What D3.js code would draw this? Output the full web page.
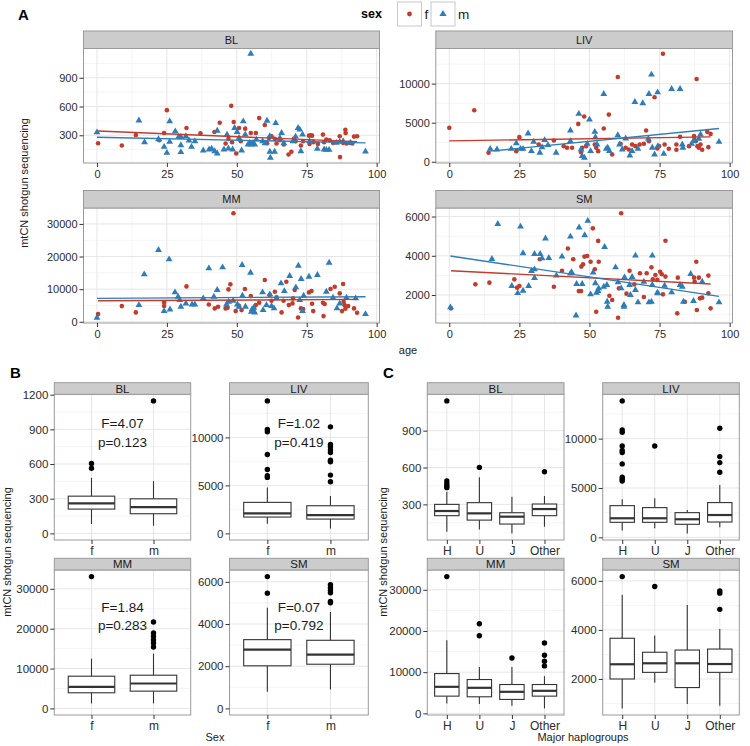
<!DOCTYPE html>
<html><head><meta charset="utf-8">
<script src="https://cdn.jsdelivr.net/npm/d3@7"></script>
<style>body{margin:0;background:#fff} svg text{font-family:"Liberation Sans",Arial,Helvetica,sans-serif}</style>
</head><body><svg id="c" width="750" height="746"></svg>
<script>
// ---------------- DATA ----------------
const facets = ["BL","LIV","MM","SM"];
const sexLevels = ["f","m"];
const hapLevels = ["H","U","J","Other"];
const ageTicks = [0,25,50,75,100];
const scatterYTicks = [[300,600,900],[0,5000,10000],[0,10000,20000,30000],[2000,4000,6000]];
const sexYTicks = [[0,300,600,900,1200],[0,5000,10000],[0,10000,20000,30000],[0,2000,4000,6000]];
const hapYTicks = [[300,600,900],[0,5000,10000],[0,10000,20000,30000],[2000,4000,6000]];

// Panel A scatter: [age, mtCN]
const blF = [[0.4,217],[8.9,193],[13.9,303],[22.3,248],[24,324],[25,562],[32,376],[37,321],[42,334],[43.9,431],[46,214],[47,262],[48,607],[48.3,228],[48.9,438],[49.8,110],[50.8,376],[51.4,238],[53,369],[55,324],[56.8,324],[58,479],[60,407],[60.8,217],[61.5,272],[62.4,290],[63.6,262],[64.2,214],[65.4,248],[66.8,203],[68.5,100],[69.5,128],[70.4,262],[71,238],[72.9,193],[73.7,238],[75.8,296],[76.4,300],[76.9,296],[76,210],[77.4,228],[79,210],[80.8,307],[81.2,228],[82,255],[83.2,248],[84.4,221],[86.8,290],[86.9,72],[88,221],[88.8,358],[88.9,324],[89.2,214],[90.4,221],[91.3,214],[91.9,286],[93,290]];
const blM = [[0,331],[15,455],[17,228],[22,259],[24,179],[25,117],[26,445],[26,231],[28,341],[29.2,283],[30,283],[30,124],[30,196],[31.8,290],[32.9,245],[33.8,179],[35,238],[38,141],[40.1,152],[41,159],[42.1,134],[43,110],[43,348],[45.4,152],[46.5,307],[47,162],[48.5,152],[49.2,376],[50.1,334],[50.8,272],[51.7,141],[52.3,445],[53,307],[54,203],[54.6,221],[55,1151],[55.2,203],[55.8,221],[56.4,203],[57,255],[59.2,238],[60.1,217],[60.8,452],[61.8,290],[61.8,128],[62,65],[63.5,128],[63.9,427],[65.4,272],[66,324],[66.8,217],[70.1,238],[71,286],[71.9,376],[72.5,359],[72.9,134],[73.5,307],[76,238],[78.8,159],[81.2,152],[82,148],[83,148],[85.6,221],[86.8,231],[88,238],[90.7,221],[96,131]];
const livF = [[0,4340],[8.9,6595],[14,1150],[23.9,1360],[25,3150],[31.9,2210],[37.3,2720],[40.8,2000],[42,1790],[43.8,1790],[46,4850],[47,1230],[47.4,1790],[48.1,5790],[48.8,2000],[51.9,2210],[52.4,1790],[53.1,1360],[55.1,4255],[56.9,6040],[58.1,940],[60.1,10850],[61.1,2300],[62.9,1790],[64,1570],[65.2,2210],[66.4,2000],[67.9,2210],[69.4,2300],[70.2,4000],[71.2,2640],[73.2,8250],[74.2,1700],[74.8,2000],[76.2,13830],[76.8,2210],[78.3,1660],[81,2210],[81,1530],[82.3,3190],[85.5,2000],[87.3,3280],[87.4,2850],[87.9,2640],[88.2,10600],[88.5,2000],[89,1790],[89.6,2210],[90.2,1530],[92,3830],[92.4,1870],[93.2,3570]];
const livM = [[14.6,1660],[17,1570],[22.1,1660],[23.9,2380],[25.4,1660],[26.3,1660],[28.1,3620],[29.3,1360],[30.1,2550],[32.3,1150],[33.1,1870],[34,2770],[35.2,2130],[38.1,1150],[43.2,4000],[43.2,2640],[46.2,6130],[47,1570],[47.4,720],[48.2,510],[49.2,2300],[50,5400],[50.4,1360],[51.9,3830],[52.1,3150],[52.7,2210],[55.1,8680],[56,1660],[56.5,1790],[57.1,1360],[60.1,3400],[60.7,2210],[61.7,1570],[62.9,2980],[64.4,810],[65.2,1360],[66.2,7660],[67.3,1660],[69,7490],[71,2940],[71.2,8680],[72.1,11150],[72.4,1790],[73.2,940],[74.3,8890],[74.4,2000],[76.5,1020],[79.3,9320],[82.3,9320],[83.1,2210],[83.3,1790],[86.4,2300],[87.3,2640],[89,2940],[89.6,3490],[96.2,2550]];
const mmF = [[0.4,2355],[8.9,4810],[13.9,2870],[24,5940],[24,4810],[32,10850],[40,5320],[42.1,4100],[43.3,4610],[46,4100],[46.7,4300],[47,9930],[47.7,11470],[48.8,33280],[49.6,3280],[50.8,4810],[51.7,3580],[52.9,10040],[55,7880],[56.8,5120],[58,5840],[60,12800],[61.8,8190],[62.4,6450],[63.6,9220],[64.2,7480],[66,2870],[66.7,6450],[67.7,12290],[68.6,5120],[69.9,5630],[70.1,7170],[70.7,9730],[71.9,1330],[72.9,4100],[73.7,3890],[75.8,9010],[76.7,9420],[76.9,5530],[77.3,3280],[80.8,5840],[81,1740],[81.4,5430],[83.5,10040],[85,10750],[86.8,8700],[87.6,3280],[88,11570],[88.2,6140],[88.5,5120],[88.8,3990],[89.8,4810],[91.9,4100],[93,2760]];
const mmM = [[0,1230],[15,5120],[16.9,14540],[22,22020],[24,3280],[25.8,19150],[26.1,3790],[27.9,9010],[29,7680],[29.6,6660],[30,4610],[31.8,5630],[34,5320],[35,5320],[38,7170],[40,16380],[41.8,7680],[43,9730],[44.9,16690],[46.3,5320],[47.1,6140],[48.7,6450],[50.2,5320],[50.8,4610],[51.9,17410],[52,7990],[53.1,4610],[54.9,15050],[55.2,3070],[55.5,3890],[56.1,4300],[56.4,2870],[59.2,9010],[59.4,3580],[60.6,5120],[61.8,8400],[62.4,4810],[63.3,4100],[64.2,7170],[65.8,11780],[67,9420],[68.9,14030],[71.1,10550],[72,17200],[72.5,6660],[73,13110],[73.5,3280],[73.9,7990],[75.8,13820],[78.8,14340],[82,9220],[83,18120],[84.4,7370],[85.8,4100],[86.8,5630],[89.2,7370],[92.5,7170],[96,2360]];
const smF = [[0.6,1320],[9.3,2545],[14.3,2630],[23.2,2800],[24.2,2375],[25,2460],[32.3,3820],[37.3,2425],[40.2,3240],[42.3,4370],[44.2,3820],[46.2,2200],[47,2200],[47.1,3450],[47.7,3570],[48.2,3960],[49.2,3990],[50.4,3700],[51.2,5400],[51.9,3310],[52.4,1150],[53.1,4760],[53.3,3700],[57.1,1965],[58.1,1745],[60.2,840],[60.5,2340],[61.3,6170],[63.2,2070],[64.3,3240],[66,2545],[68,3110],[69.4,1900],[70.4,3110],[72.1,3410],[72.6,2800],[73.5,3020],[74.2,2770],[75.2,3190],[75.8,3060],[76.2,2035],[77.1,4770],[77.1,2940],[81.3,1065],[81.5,2885],[84,1660],[87.3,2885],[87.5,2680],[88.1,3700],[88.3,1235],[89,2885],[89.4,1830],[90.2,1865],[92.4,2990],[92.4,2085],[93.2,1320]];
const smM = [[0.4,1370],[15.2,3840],[17.3,5625],[22.3,2460],[24.4,2100],[25.4,5490],[26.3,2220],[26.3,4130],[28.3,2460],[29.3,3225],[30.4,3310],[30.4,2870],[30.4,4090],[32.4,4090],[33.1,3870],[34.3,4880],[35.5,3890],[38.2,2990],[40.2,3960],[43.2,4980],[43.2,3090],[43.6,3170],[45.2,960],[45.4,2560],[46.3,5440],[47.4,2560],[48.3,5050],[49.4,5780],[50.4,2035],[51.3,3140],[52.1,2600],[52.5,2120],[53.1,2200],[53.3,2340],[55.1,2425],[55.4,4450],[56.2,2510],[56.3,1660],[56.5,1400],[59.3,3410],[60.2,2650],[61.3,2340],[62.3,1490],[62.3,1400],[62.5,2900],[64.3,2510],[64.6,2000],[65.2,2920],[66.4,4010],[66.4,2255],[67.3,1625],[69.4,2680],[71.2,1625],[72.1,1660],[72.4,4010],[72.4,2510],[74.2,2120],[74.4,2085],[76.8,2475],[79.3,2135],[82.3,2510],[83.1,2425],[83.5,1660],[86.1,3070],[87.1,1695],[90.2,2680],[96.2,1625]];

// Linear fits, value at the youngest and the oldest age of each series [f, m]
const fitBL = [[345,234],[279,221]];
const fitLIV = [[2680,3190],[1360,4255]];
const fitMM = [[6450,6860],[7170,7680]];
const fitSM = [[3240,2560],[3990,1930]];

// Panel B boxplots by sex: [lower whisker, Q1, median, Q3, upper whisker]
const boxSexBL = [[81,210,259,322,481],[66,170,227,299,452]];
const boxSexLIV = [[1000,1700,2080,3230,4790],[520,1490,1910,2880,3890]];
const boxSexMM = [[1250,3920,5410,8080,12500],[1250,4330,6250,8330,13750]];
const boxSexSM = [[790,2020,2790,3260,4770],[900,2095,2550,3230,4570]];
const outSexBL = [[563,605],[1146]];
const outSexLIV = [[5830,6000,6660,8220,10580,10830,13800],[5380,6070,7460,7630,8430,8680,9020,9260,11100]];
const outSexMM = [[33070],[15410,16410,17240,18080,18910,21660]];
const outSexSM = [[5465,6250],[5010,5070,5480,5590,5720,5860]];
const statF = ["F=4.07","F=1.02","F=1.84","F=0.07"];
const statP = ["p=0.123","p=0.419","p=0.283","p=0.792"];

// Panel C boxplots by haplogroup (H, U, J, Other)
const boxHapBL = [[77,208,246,300,403],[95,172,227,314,520],[64,140,200,232,362],[118,208,262,303,368]];
const boxHapLIV = [[680,1520,1930,3210,3850],[910,1520,1930,3010,3950],[400,1320,1830,2500,2770],[1010,1550,2260,3520,5310]];
const boxHapMM = [[2420,4190,6450,9670,17730],[2260,4030,6210,8220,11280],[1850,3390,5240,7010,11280],[1210,4190,5480,7010,9030]];
const boxHapSM = [[800,2000,2600,3660,5430],[1850,2270,2640,3090,3770],[980,1650,2640,3180,5020],[910,2270,2610,3220,4040]];
const outHapBL = [[436,449,466,490,1142],[601],[],[566]];
const outHapLIV = [[5710,5880,6080,7440,8590,8790,9260,10650,10880,13820],[9260],[],[6590,7570,8180,11050]];
const outHapMM = [[33210],[18860,21760],[13460],[11530,12650,14100,17090]];
const outHapSM = [[6175],[5770],[],[4840,5500,5590]];

// ---------------- DRAWING ----------------
const scatterF = [blF, livF, mmF, smF];
const scatterM = [blM, livM, mmM, smM];
const fits = [fitBL, fitLIV, fitMM, fitSM];
const boxSex = [boxSexBL, boxSexLIV, boxSexMM, boxSexSM];
const outSex = [outSexBL, outSexLIV, outSexMM, outSexSM];
const boxHap = [boxHapBL, boxHapLIV, boxHapMM, boxHapSM];
const outHap = [outHapBL, outHapLIV, outHapMM, outHapSM];

const colF = "#C23B2C", colM = "#2D7DB8";
const svg = d3.select("#c");
const FONT = '"Liberation Sans", Arial, Helvetica, sans-serif';
const fmt = d3.format("d");

function expand(lo, hi){ const r = hi - lo; return [lo - 0.05*r, hi + 0.05*r]; }
function minorOf(ticks, dom){
  if (ticks.length < 2) return [];
  const step = ticks[1] - ticks[0], out = [];
  for (let i = -1; i < ticks.length; i++){
    const v = ticks[0] + step*(i + 0.5);
    if (v > dom[0] && v < dom[1]) out.push(v);
  }
  return out;
}

function frame(L, x, y, xMajor, xMinor, yMajor, yMinor, label, stripFs){
  const g = svg.append("g");
  g.append("rect").attr("x", L.x0).attr("y", L.py0).attr("width", L.x1-L.x0).attr("height", L.py1-L.py0).attr("fill", "#fff");
  const grid = g.append("g");
  yMinor.forEach(v => grid.append("line").attr("x1", L.x0).attr("x2", L.x1).attr("y1", y(v)).attr("y2", y(v)).attr("stroke", "#f5f5f5").attr("stroke-width", 1));
  xMinor.forEach(v => grid.append("line").attr("y1", L.py0).attr("y2", L.py1).attr("x1", x(v)).attr("x2", x(v)).attr("stroke", "#f5f5f5").attr("stroke-width", 1));
  yMajor.filter(v => y(v) >= L.py0 && y(v) <= L.py1).forEach(v => grid.append("line").attr("x1", L.x0).attr("x2", L.x1).attr("y1", y(v)).attr("y2", y(v)).attr("stroke", "#e6e6e6").attr("stroke-width", 1));
  xMajor.forEach(v => grid.append("line").attr("y1", L.py0).attr("y2", L.py1).attr("x1", x(v)).attr("x2", x(v)).attr("stroke", "#e6e6e6").attr("stroke-width", 1));
  const content = g.append("g");
  const top = g.append("g");
  top.append("rect").attr("x", L.x0).attr("y", L.py0).attr("width", L.x1-L.x0).attr("height", L.py1-L.py0).attr("fill", "none").attr("stroke", "#9a9a9a").attr("stroke-width", 1);
  top.append("rect").attr("x", L.x0).attr("y", L.sy0).attr("width", L.x1-L.x0).attr("height", L.py0-L.sy0).attr("fill", "#cccccc").attr("stroke", "#9a9a9a").attr("stroke-width", 1);
  top.append("text").attr("x", (L.x0+L.x1)/2).attr("y", (L.sy0+L.py0)/2).attr("dy", "0.36em").attr("text-anchor", "middle").attr("font-size", stripFs).attr("fill", "#1a1a1a").text(label);
  return content;
}

function styleAxis(a, fs){
  a.select(".domain").remove();
  a.attr("font-family", FONT);
  a.selectAll(".tick line").attr("stroke", "#333");
  a.selectAll(".tick text").attr("fill", "#2b2b2b").attr("font-size", fs);
}

// ---- Panel A ----
const Acols = [[83.5,379.5],[435.8,732.5]];
const Arows = [[31,48.5,163],[190.5,208,323]];
const allAges = scatterF.concat(scatterM).flat().map(d => d[0]);
const ageDom = expand(d3.min(allAges), d3.max(allAges));

facets.forEach((name, i) => {
  const c = Acols[i % 2], r = Arows[Math.floor(i/2)];
  const L = {x0:c[0], x1:c[1], sy0:r[0], py0:r[1], py1:r[2]};
  const all = scatterF[i].concat(scatterM[i]);
  const x = d3.scaleLinear().domain(ageDom).range([L.x0, L.x1]);
  const yd = expand(d3.min(all, d => d[1]), d3.max(all, d => d[1]));
  const y = d3.scaleLinear().domain(yd).range([L.py1, L.py0]);
  const g = frame(L, x, y, ageTicks, minorOf(ageTicks, ageDom), scatterYTicks[i], minorOf(scatterYTicks[i], yd), name, 11);
  g.selectAll("circle.f").data(scatterF[i]).enter().append("circle")
    .attr("cx", d => x(d[0])).attr("cy", d => y(d[1])).attr("r", 2.3).attr("fill", colF);
  g.selectAll("path.m").data(scatterM[i]).enter().append("path")
    .attr("d", d3.symbol(d3.symbolTriangle, 20)).attr("transform", d => `translate(${x(d[0])},${y(d[1])})`).attr("fill", colM);
  [[scatterF[i], fits[i][0], colF], [scatterM[i], fits[i][1], colM]].forEach(([s, f, col]) => {
    const a0 = d3.min(s, d => d[0]), a1 = d3.max(s, d => d[0]);
    g.append("path").datum([[a0, f[0]], [a1, f[1]]])
      .attr("d", d3.line().x(d => x(d[0])).y(d => y(d[1])))
      .attr("stroke", col).attr("stroke-width", 1.4).attr("fill", "none");
  });
  const ay = svg.append("g").attr("transform", `translate(${L.x0},0)`)
    .call(d3.axisLeft(y).tickValues(scatterYTicks[i]).tickFormat(fmt).tickSize(4).tickPadding(2));
  styleAxis(ay, 11);
  const ax = svg.append("g").attr("transform", `translate(0,${L.py1})`)
    .call(d3.axisBottom(x).tickValues(ageTicks).tickFormat(fmt).tickSize(4).tickPadding(3));
  styleAxis(ax, 11);
});

svg.append("text").attr("x", 18).attr("y", 20).attr("font-size", 15).attr("font-weight", "bold").attr("fill", "#000").text("A");
svg.append("text").attr("x", 408).attr("y", 354).attr("text-anchor", "middle").attr("font-size", 11).attr("fill", "#1a1a1a").text("age");
svg.append("text").attr("transform", "translate(28,183) rotate(-90)").attr("text-anchor", "middle").attr("font-size", 11).attr("fill", "#1a1a1a").text("mtCN shotgun sequencing");

// legend
svg.append("text").attr("x", 361).attr("y", 18).attr("font-size", 12.5).attr("font-weight", "bold").attr("fill", "#000").text("sex");
const legendKeys = [[397.5, "f"], [431, "m"]];
legendKeys.forEach(([kx, lab], k) => {
  svg.append("rect").attr("x", kx).attr("y", 2).attr("width", 24).attr("height", 24).attr("fill", "#fff").attr("stroke", "#c8c8c8");
  if (k === 0) svg.append("circle").attr("cx", kx+12).attr("cy", 14).attr("r", 2.4).attr("fill", colF);
  else svg.append("path").attr("d", d3.symbol(d3.symbolTriangle, 22)).attr("transform", `translate(${kx+12},14)`).attr("fill", colM);
  svg.append("text").attr("x", kx+27).attr("y", 19).attr("font-size", 13.5).attr("fill", "#1a1a1a").text(lab);
});

// ---- Boxplot panels ----
function boxPanel(L, name, levels, stats, outs, ticks, includeZero){
  const vals = stats.flat().concat(outs.flat());
  let lo = d3.min(vals), hi = d3.max(vals);
  if (includeZero) lo = Math.min(0, lo);
  const yd = expand(lo, hi);
  const y = d3.scaleLinear().domain(yd).range([L.py1, L.py0]);
  const pos = levels.map((_, k) => k + 1);
  const x = d3.scaleLinear().domain([0.4, levels.length + 0.6]).range([L.x0, L.x1]);
  const g = frame(L, x, y, pos, [], ticks, minorOf(ticks, yd), name, 11.5);
  const hw = (x(1.375) - x(1));
  stats.forEach((s, k) => {
    const cx = x(k + 1);
    g.append("line").attr("x1", cx).attr("x2", cx).attr("y1", y(s[0])).attr("y2", y(s[1])).attr("stroke", "#333").attr("stroke-width", 1.1);
    g.append("line").attr("x1", cx).attr("x2", cx).attr("y1", y(s[3])).attr("y2", y(s[4])).attr("stroke", "#333").attr("stroke-width", 1.1);
    g.append("rect").attr("x", cx - hw).attr("y", y(s[3])).attr("width", 2*hw).attr("height", y(s[1]) - y(s[3])).attr("fill", "#fff").attr("stroke", "#333").attr("stroke-width", 1.1);
    g.append("line").attr("x1", cx - hw).attr("x2", cx + hw).attr("y1", y(s[2])).attr("y2", y(s[2])).attr("stroke", "#333").attr("stroke-width", 2.2);
    g.selectAll(null).data(outs[k]).enter().append("circle").attr("cx", cx).attr("cy", d => y(d)).attr("r", 2.7).attr("fill", "#000");
  });
  const ay = svg.append("g").attr("transform", `translate(${L.x0},0)`)
    .call(d3.axisLeft(y).tickValues(ticks.filter(t => t >= yd[0] && t <= yd[1])).tickFormat(fmt).tickSize(4).tickPadding(2));
  styleAxis(ay, 11.5);
  const ax = svg.append("g").attr("transform", `translate(0,${L.py1})`)
    .call(d3.axisBottom(x).tickValues(pos).tickFormat(v => levels[v - 1]).tickSize(4).tickPadding(2));
  styleAxis(ax, 12);
  return g;
}

const BCrows = [[382.7,394.3,540],[558.3,570,715]];
const Bcols = [[54.3,190.7],[229.5,368.3]];
const Ccols = [[427.3,564],[602.7,739.3]];
const annotRows = [[0.195, 0.325], [0.255, 0.38]];

facets.forEach((name, i) => {
  const r = BCrows[Math.floor(i/2)];
  const cb = Bcols[i % 2];
  const LB = {x0:cb[0], x1:cb[1], sy0:r[0], py0:r[1], py1:r[2]};
  const g = boxPanel(LB, name, sexLevels, boxSex[i], outSex[i], sexYTicks[i], true);
  const ar = annotRows[Math.floor(i/2)], h = LB.py1 - LB.py0, cx = (LB.x0 + LB.x1)/2;
  g.append("text").attr("x", cx).attr("y", LB.py0 + ar[0]*h).attr("dy", "0.36em").attr("text-anchor", "middle").attr("font-size", 13.5).attr("fill", "#1a1a1a").text(statF[i]);
  g.append("text").attr("x", cx).attr("y", LB.py0 + ar[1]*h).attr("dy", "0.36em").attr("text-anchor", "middle").attr("font-size", 13.5).attr("fill", "#1a1a1a").text(statP[i]);
  const cc = Ccols[i % 2];
  const LC = {x0:cc[0], x1:cc[1], sy0:r[0], py0:r[1], py1:r[2]};
  boxPanel(LC, name, hapLevels, boxHap[i], outHap[i], hapYTicks[i], false);
});

svg.append("text").attr("x", 10).attr("y", 378).attr("font-size", 15).attr("font-weight", "bold").attr("fill", "#000").text("B");
svg.append("text").attr("x", 383).attr("y", 378).attr("font-size", 15).attr("font-weight", "bold").attr("fill", "#000").text("C");
svg.append("text").attr("x", 215).attr("y", 741).attr("text-anchor", "middle").attr("font-size", 11).attr("fill", "#1a1a1a").text("Sex");
svg.append("text").attr("x", 583).attr("y", 741).attr("text-anchor", "middle").attr("font-size", 11).attr("fill", "#1a1a1a").text("Major haplogroups");
svg.append("text").attr("transform", "translate(11,552) rotate(-90)").attr("text-anchor", "middle").attr("font-size", 11).attr("fill", "#1a1a1a").text("mtCN shotgun sequencing");
svg.append("text").attr("transform", "translate(387,552) rotate(-90)").attr("text-anchor", "middle").attr("font-size", 11).attr("fill", "#1a1a1a").text("mtCN shotgun sequencing");
</script></body></html>
